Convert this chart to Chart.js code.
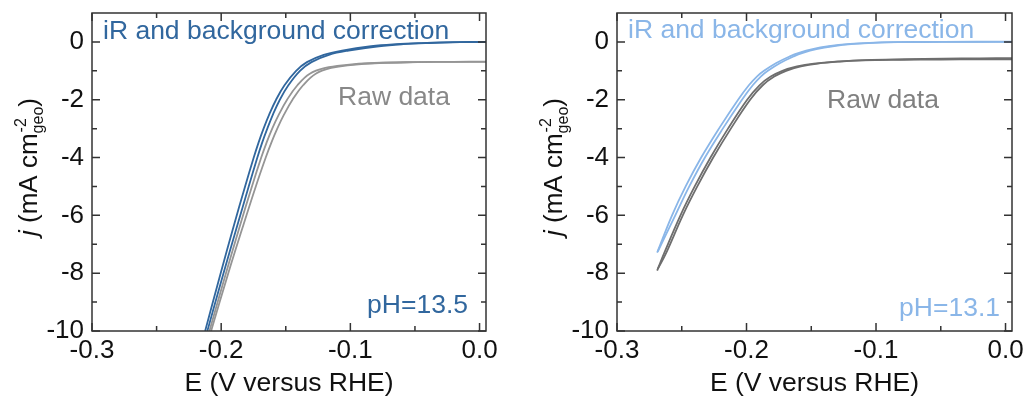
<!DOCTYPE html>
<html>
<head>
<meta charset="utf-8">
<script src="https://cdn.jsdelivr.net/npm/chart.js@4.4.0/dist/chart.umd.min.js"></script>
<style>
  html, body { margin: 0; padding: 0; background: #fff; }
  #wrap { position: relative; width: 1027px; height: 400px; }
  #wrap canvas { position: absolute; left: 0; top: 0; }
</style>
</head>
<body>
<div id="wrap">
  <canvas id="lsvHigh" width="1027" height="400"></canvas>
  <canvas id="lsvLow" width="1027" height="400"></canvas>
</div>
<script>
// axis ticks, same for both panels
const xTicks = [-0.3, -0.2, -0.1, 0.0];
const xMinor = [-0.25, -0.15, -0.05];
const yTicks = [-10, -8, -6, -4, -2, 0];
const yMinor = [-9, -7, -5, -3, -1];

// pH 13.5, iR + background corrected (two sweeps)
const highCorrAE = [-0.2124, -0.2004, -0.1911, -0.1815, -0.1748, -0.1712, -0.1672, -0.1627, -0.1575, -0.1510, -0.1420, -0.1336, -0.1206, -0.1064, -0.0839, -0.0650, -0.0450, -0.0200, 0.005];
const highCorrAJ = [-10, -8, -6.5, -5, -4, -3.5, -3, -2.5, -2, -1.5, -1, -0.7, -0.45, -0.3, -0.15, -0.08, -0.04, -0.01, 0];
const highCorrBE = [-0.2107, -0.1982, -0.1885, -0.1787, -0.1720, -0.1684, -0.1643, -0.1598, -0.1546, -0.1480, -0.1390, -0.1301, -0.1166, -0.1014, -0.0779, -0.0590, -0.0390, -0.0150, 0.005];
const highCorrBJ = [-10, -8, -6.5, -5, -4, -3.5, -3, -2.5, -2, -1.5, -1, -0.7, -0.45, -0.3, -0.15, -0.08, -0.04, -0.01, 0];
// pH 13.5, raw
const highRawAE = [-0.2091, -0.1963, -0.1864, -0.1762, -0.1690, -0.1650, -0.1605, -0.1552, -0.1490, -0.1410, -0.1314, -0.1194, -0.1044, -0.0813, -0.0513, -0.0200, 0.005];
const highRawAJ = [-10, -8, -6.5, -5, -4, -3.5, -3, -2.5, -2, -1.5, -1.1, -0.9, -0.8, -0.73, -0.70, -0.69, -0.68];
const highRawBE = [-0.2078, -0.1945, -0.1840, -0.1732, -0.1655, -0.1613, -0.1566, -0.1512, -0.1448, -0.1366, -0.1268, -0.1148, -0.1000, -0.0775, -0.0480, -0.0200, 0.005];
const highRawBJ = [-10, -8, -6.5, -5, -4, -3.5, -3, -2.5, -2, -1.5, -1.1, -0.9, -0.8, -0.73, -0.70, -0.69, -0.69];

// pH 13.1, iR + background corrected
const lowCorrAE = [-0.2690, -0.2575, -0.2470, -0.2350, -0.2213, -0.2065, -0.1982, -0.1918, -0.1865, -0.1770, -0.1665, -0.1595, -0.1490, -0.1365, -0.1200, -0.1050, -0.0860, -0.0500, 0.005];
const lowCorrAJ = [-7.29, -6, -5, -4, -3, -2, -1.5, -1.19, -1, -0.73, -0.5, -0.38, -0.25, -0.15, -0.07, -0.03, -0.01, 0, 0];
const lowCorrBE = [-0.2685, -0.2550, -0.2442, -0.2321, -0.2183, -0.2035, -0.1952, -0.1888, -0.1835, -0.1740, -0.1635, -0.1565, -0.1460, -0.1335, -0.1170, -0.1020, -0.0830, -0.0480, 0.005];
const lowCorrBJ = [-7.25, -6, -5, -4, -3, -2, -1.5, -1.19, -1, -0.73, -0.5, -0.38, -0.25, -0.15, -0.07, -0.03, -0.01, 0, 0.01];
// pH 13.1, raw
const lowRawAE = [-0.2690, -0.2635, -0.2510, -0.2400, -0.2278, -0.2143, -0.1995, -0.1900, -0.1813, -0.1723, -0.1610, -0.1480, -0.1310, -0.1110, -0.0810, -0.0500, -0.0200, 0.005];
const lowRawAJ = [-7.91, -7.3, -6, -5, -4, -3, -2, -1.5, -1.2, -1.0, -0.85, -0.75, -0.68, -0.64, -0.62, -0.61, -0.60, -0.60];
const lowRawBE = [-0.2685, -0.2620, -0.2492, -0.2380, -0.2257, -0.2121, -0.1972, -0.1875, -0.1786, -0.1694, -0.1580, -0.1450, -0.1280, -0.1080, -0.0780, -0.0480, -0.0200, 0.005];
const lowRawBJ = [-7.85, -7.3, -6, -5, -4, -3, -2, -1.5, -1.2, -1.0, -0.85, -0.75, -0.68, -0.63, -0.60, -0.58, -0.57, -0.56];

const FONT = '"Liberation Sans", Arial, sans-serif';
const darkBlue = '#31679e';
const lightBlue = '#8ab6e8';

// box, inward ticks, rotated y title and the in-plot labels
const frameAndNotes = {
    id: 'frameAndNotes',
    afterDatasetsDraw(chart, args, opts) {
        const { ctx, chartArea: a, scales: { x, y } } = chart;
        ctx.save();

        ctx.strokeStyle = '#333';
        ctx.lineWidth = 1.5;
        ctx.strokeRect(a.left, a.top, a.right - a.left, a.bottom - a.top);

        ctx.beginPath();
        const xMark = (vals, len) => vals.forEach(v => {
            const px = x.getPixelForValue(v);
            ctx.moveTo(px, a.bottom); ctx.lineTo(px, a.bottom - len);
            ctx.moveTo(px, a.top); ctx.lineTo(px, a.top + len);
        });
        const yMark = (vals, len) => vals.forEach(v => {
            const py = y.getPixelForValue(v);
            ctx.moveTo(a.left, py); ctx.lineTo(a.left + len, py);
            ctx.moveTo(a.right, py); ctx.lineTo(a.right - len, py);
        });
        xMark(xTicks, 8); xMark(xMinor, 5);
        yMark(yTicks, 8); yMark(yMinor, 5);
        ctx.stroke();

        // j (mA cm^-2_geo)
        ctx.translate(a.left - 55, 167);
        ctx.rotate(-Math.PI / 2);
        ctx.fillStyle = '#111';
        ctx.textBaseline = 'alphabetic';
        ctx.textAlign = 'left';
        const big = '26px ' + FONT, small = '16px ' + FONT;
        ctx.font = 'italic ' + big; const wJ = ctx.measureText('j').width;
        ctx.font = big; const wMain = ctx.measureText(' (mA cm').width;
        const wClose = ctx.measureText(')').width;
        ctx.font = small;
        const wScript = Math.max(ctx.measureText('-2').width, ctx.measureText('geo').width);
        let cx = -(wJ + wMain + wScript + wClose) / 2;
        ctx.font = 'italic ' + big; ctx.fillText('j', cx, 0); cx += wJ;
        ctx.font = big; ctx.fillText(' (mA cm', cx, 0); cx += wMain;
        ctx.font = small; ctx.fillText('-2', cx + 1, -11); ctx.fillText('geo', cx, 6); cx += wScript;
        ctx.font = big; ctx.fillText(')', cx, 0);
        ctx.setTransform(1, 0, 0, 1, 0, 0);

        ctx.font = '26.5px ' + FONT;
        ctx.textBaseline = 'alphabetic';
        opts.notes.forEach(n => {
            ctx.fillStyle = n.color;
            ctx.textAlign = n.align;
            const px = n.align === 'right' ? a.right + n.dx : a.left + n.dx;
            ctx.fillText(n.text, px, a.top + n.dy);
        });
        ctx.restore();
    }
};

function toPoints(es, js) {
    return es.map((e, i) => ({ x: e, y: js[i] }));
}

function makePanel(id, sets, notes, padLeft, padRight) {
    return new Chart(document.getElementById(id), {
        type: 'line',
        data: {
            datasets: sets.map(s => ({
                data: toPoints(s.e, s.j),
                borderColor: s.color,
                borderWidth: 1.8,
                pointRadius: 0,
                tension: 0.4,
                fill: false
            }))
        },
        options: {
            responsive: false,
            animation: false,
            layout: { padding: { left: padLeft, right: padRight, top: 13, bottom: 0 } },
            plugins: {
                legend: { display: false },
                tooltip: { enabled: false },
                frameAndNotes: { notes: notes }
            },
            scales: {
                x: {
                    type: 'linear',
                    min: -0.3,
                    max: 0.005,
                    grid: { display: false, drawTicks: false },
                    border: { display: false },
                    afterBuildTicks: s => { s.ticks = xTicks.map(v => ({ value: v })); },
                    afterFit: s => { s.height = 69; s.paddingLeft = 0; s.paddingRight = 0; },
                    ticks: {
                        color: '#111',
                        font: { family: FONT, size: 26 },
                        padding: 4,
                        maxRotation: 0,
                        autoSkip: false,
                        callback: v => v.toFixed(1)
                    },
                    title: {
                        display: true,
                        text: 'E (V versus RHE)',
                        color: '#111',
                        font: { family: FONT, size: 26.5 },
                        padding: { top: 0, bottom: 0 }
                    }
                },
                y: {
                    type: 'linear',
                    min: -10,
                    max: 1,
                    grid: { display: false, drawTicks: false },
                    border: { display: false },
                    afterBuildTicks: s => { s.ticks = yTicks.map(v => ({ value: v })); },
                    afterFit: s => { s.width = 92; s.paddingTop = 0; s.paddingBottom = 0; },
                    ticks: {
                        color: '#111',
                        font: { family: FONT, size: 26 },
                        padding: 8,
                        autoSkip: false,
                        callback: v => String(v)
                    }
                }
            }
        },
        plugins: [frameAndNotes]
    });
}

makePanel('lsvHigh', [
    { e: highRawAE, j: highRawAJ, color: '#959595' },
    { e: highRawBE, j: highRawBJ, color: '#959595' },
    { e: highCorrAE, j: highCorrAJ, color: darkBlue },
    { e: highCorrBE, j: highCorrBJ, color: darkBlue }
], [
    { text: 'iR and background correction', color: darkBlue, align: 'left', dx: 11, dy: 26 },
    { text: 'Raw data', color: '#888888', align: 'left', dx: 246, dy: 92 },
    { text: 'pH=13.5', color: darkBlue, align: 'right', dx: -18, dy: 300 }
], 0, 541);

makePanel('lsvLow', [
    { e: lowRawAE, j: lowRawAJ, color: '#6e6e6e' },
    { e: lowRawBE, j: lowRawBJ, color: '#6e6e6e' },
    { e: lowCorrAE, j: lowCorrAJ, color: lightBlue },
    { e: lowCorrBE, j: lowCorrBJ, color: lightBlue }
], [
    { text: 'iR and background correction', color: lightBlue, align: 'left', dx: 11, dy: 25 },
    { text: 'Raw data', color: '#808080', align: 'left', dx: 210, dy: 95 },
    { text: 'pH=13.1', color: lightBlue, align: 'right', dx: -12, dy: 303 }
], 525, 15);
</script>
</body>
</html>
